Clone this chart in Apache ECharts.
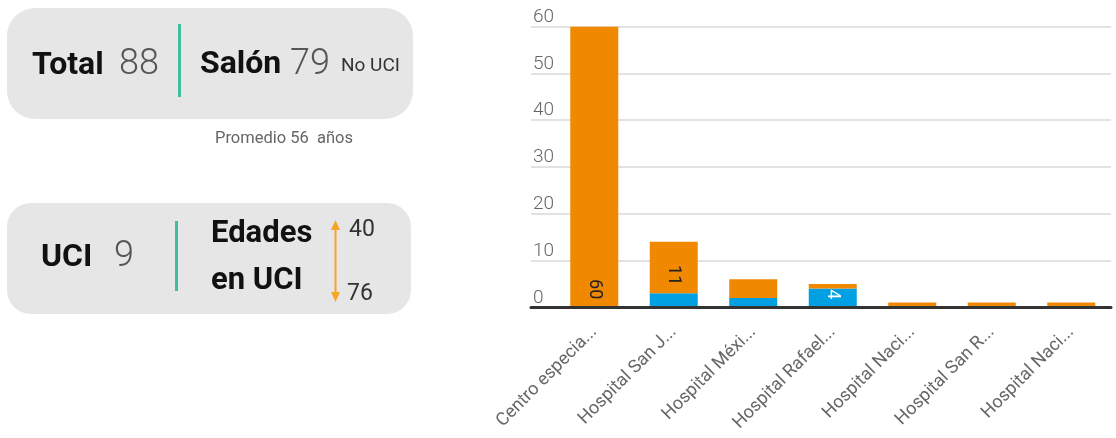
<!DOCTYPE html>
<html>
<head>
<meta charset="utf-8">
<script src="https://cdn.jsdelivr.net/npm/echarts@6/dist/echarts.min.js"></script>
<style>
html,body{margin:0;padding:0;background:#fff;}
#chart{width:1116px;height:438px;}
</style>
</head>
<body>
<div id="chart"></div>
<script>
// ---- data ----
const categories = ['Centro especia...', 'Hospital San J...', 'Hospital Méxi...', 'Hospital Rafael...', 'Hospital Naci...', 'Hospital San R...', 'Hospital Naci...'];
const uciValues   = [0, 3, 2, 4, 0, 0, 0];
const noUciValues = [60, 11, 4, 1, 1, 1, 1];
const noUciLabelled = [0, 1];
const uciLabelled = [3];
const yMin = 0, yMax = 60, yStep = 10;
const totalCount = 88, salonCount = 79, uciCount = 9;
const avgAge = 56, ageMin = 40, ageMax = 76;

const FONT = 'Roboto, "Noto Sans", sans-serif';
const ORANGE = '#F08800';
const BLUE = '#00A0E2';
const TEAL = '#3DBF9F';

const chart = echarts.init(document.getElementById('chart'), null, {renderer: 'canvas'});

function txt(text, x, y, size, weight, color, align) {
  return {
    type: 'text', x: x, y: y, z: 10,
    style: {
      text: text, fontSize: size, fontWeight: weight, fontFamily: FONT,
      fill: color, align: align || 'left', verticalAlign: 'middle'
    }
  };
}

const graphics = [
  {type: 'rect', shape: {x: 7, y: 8, width: 406, height: 111, r: 28}, style: {fill: '#e6e6e6'}},
  {type: 'rect', shape: {x: 7, y: 203, width: 404, height: 111, r: 24}, style: {fill: '#e6e6e6'}},
  {type: 'line', shape: {x1: 179.5, y1: 24, x2: 179.5, y2: 97}, style: {stroke: TEAL, lineWidth: 3}},
  {type: 'line', shape: {x1: 176.5, y1: 221, x2: 176.5, y2: 291}, style: {stroke: TEAL, lineWidth: 3}},
  txt('Total', 32, 66, 32, 'bold', '#111'),
  txt(String(totalCount), 119, 65, 36, 300, '#555'),
  txt('Salón', 200, 65, 32, 'bold', '#111'),
  txt(String(salonCount), 290, 65, 36, 300, '#555'),
  txt('No UCI', 341, 66, 19, 'normal', '#333'),
  txt('Promedio ' + avgAge + '  años', 215, 139, 16.5, 'normal', '#666'),
  txt('UCI', 41, 257.5, 32, 'bold', '#111'),
  txt(String(uciCount), 114, 257, 36, 300, '#555'),
  txt('Edades', 211, 234, 31, 'bold', '#111'),
  txt('en UCI', 211, 281, 31, 'bold', '#111'),
  txt(String(ageMin), 349, 230, 23, 'normal', '#333'),
  txt(String(ageMax), 347, 294, 23, 'normal', '#333'),
  {type: 'line', shape: {x1: 335.5, y1: 228, x2: 335.5, y2: 294}, style: {stroke: '#F5A623', lineWidth: 2}},
  {type: 'polygon', shape: {points: [[335.5, 220], [331, 230], [340, 230]]}, style: {fill: '#F5A623'}},
  {type: 'polygon', shape: {points: [[335.5, 302], [331, 292], [340, 292]]}, style: {fill: '#F5A623'}}
];

const option = {
  animation: false,
  backgroundColor: '#fff',
  graphic: graphics,
  grid: [
    {left: 531, right: 5, top: 26.7, bottom: 130.7},
    {left: 554.5, right: 5, top: 26.7, bottom: 130.7}
  ],
  xAxis: [
    {
      gridIndex: 0, type: 'category', data: [''], z: 10,
      axisLine: {show: true, lineStyle: {color: '#333', width: 3}},
      axisTick: {show: false}, axisLabel: {show: false}, splitLine: {show: false}
    },
    {
      gridIndex: 1, type: 'category', data: categories,
      axisLine: {show: false}, axisTick: {show: false},
      axisLabel: {
        interval: 0, rotate: 45, margin: 22, fontSize: 18, fontFamily: FONT,
        fontWeight: 'normal', color: '#666'
      }
    }
  ],
  yAxis: [
    {
      gridIndex: 0, type: 'value', min: yMin, max: yMax, interval: yStep,
      axisLine: {show: false}, axisTick: {show: false},
      axisLabel: {
        inside: true, margin: 2, verticalAlign: 'bottom', fontSize: 19,
        fontFamily: FONT, fontWeight: 300, color: '#666'
      },
      splitLine: {show: true, lineStyle: {color: '#e2e2e2', width: 2}}
    },
    {
      gridIndex: 1, type: 'value', min: yMin, max: yMax, interval: yStep, show: false,
      splitLine: {show: false}
    }
  ],
  series: [
    {
      name: 'UCI', type: 'bar', stack: 'total', xAxisIndex: 1, yAxisIndex: 1,
      barWidth: 48, itemStyle: {color: BLUE},
      data: uciValues.map((v, i) => ({value: v, label: {show: uciLabelled.includes(i)}})),
      label: {
        position: 'insideBottom', rotate: -90, align: 'right', verticalAlign: 'middle',
        distance: 8, fontSize: 18, fontFamily: FONT, color: '#fff'
      }
    },
    {
      name: 'No UCI', type: 'bar', stack: 'total', xAxisIndex: 1, yAxisIndex: 1,
      barWidth: 48, itemStyle: {color: ORANGE},
      data: noUciValues.map((v, i) => ({value: v, label: {show: noUciLabelled.includes(i)}})),
      label: {
        position: 'insideBottom', rotate: -90, align: 'right', verticalAlign: 'middle',
        distance: 8, fontSize: 18, fontFamily: FONT, color: '#222'
      }
    }
  ]
};
chart.setOption(option);
</script>
</body>
</html>
